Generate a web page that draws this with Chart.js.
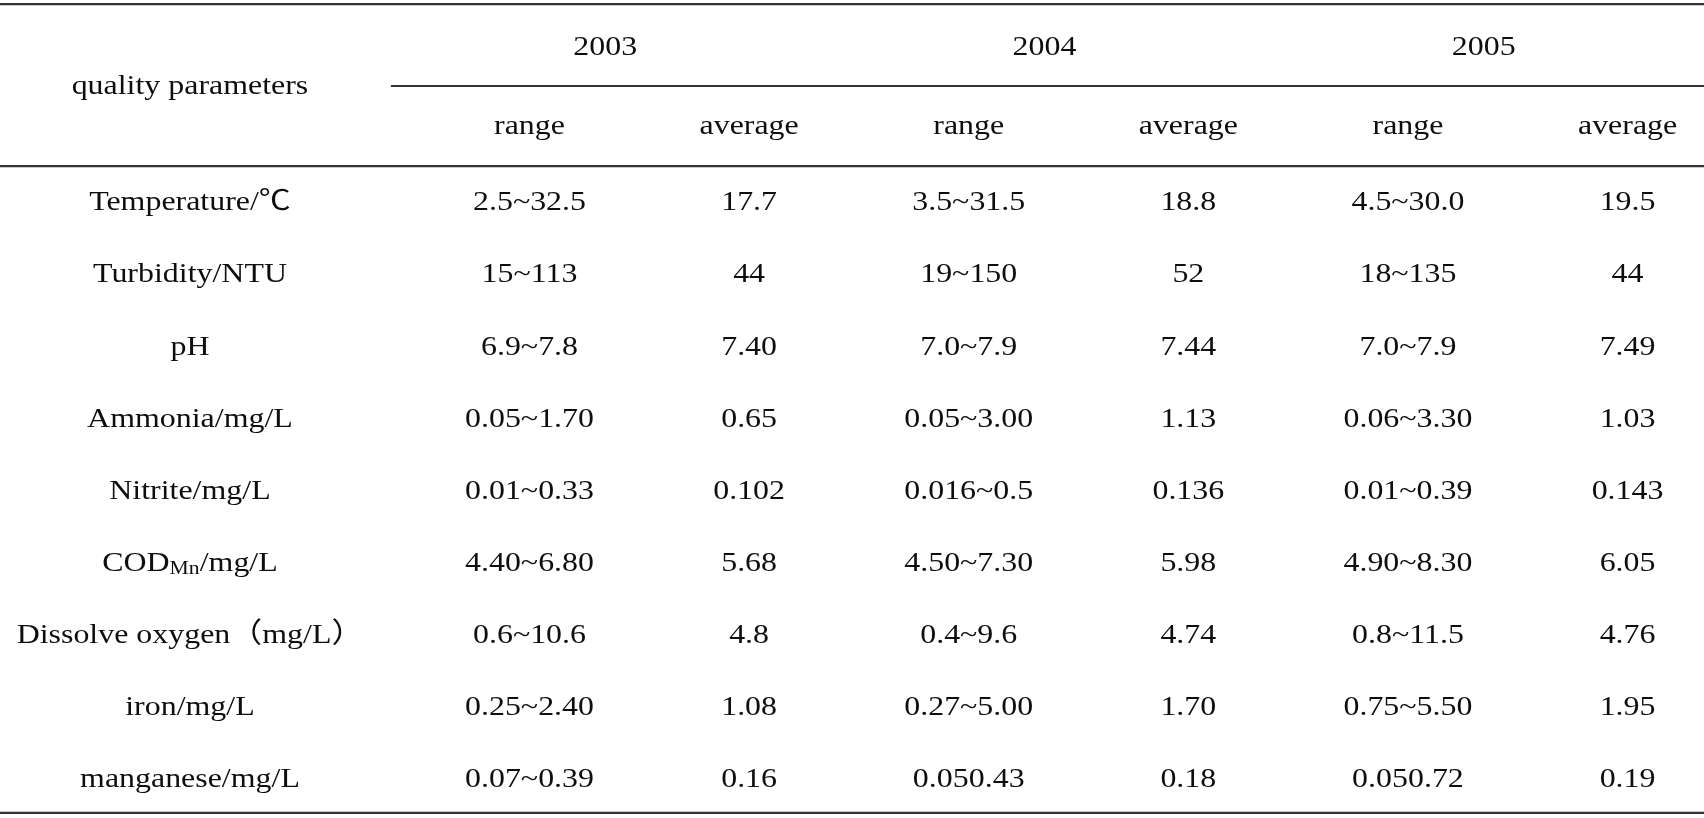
<!DOCTYPE html>
<html>
<head>
<meta charset="utf-8">
<script src="https://cdn.jsdelivr.net/npm/chart.js@4"></script>
<style>
  html, body { margin: 0; padding: 0; background: #ffffff; }
  #wrap { width: 1704px; height: 818px; position: relative; }
</style>
</head>
<body>
<div id="wrap"><canvas id="c" width="1704" height="818"></canvas></div>
<script>
// ---- table content ----
const headerTitle = 'quality parameters';
const years = ['2003', '2004', '2005'];
const subHeaders = ['range', 'average', 'range', 'average', 'range', 'average'];
const parameters = ['Temperature/℃', 'Turbidity/NTU', 'pH', 'Ammonia/mg/L', 'Nitrite/mg/L',
  'COD_{Mn}/mg/L', 'Dissolve oxygen（mg/L）', 'iron/mg/L', 'manganese/mg/L'];
const range2003 = ['2.5~32.5', '15~113', '6.9~7.8', '0.05~1.70', '0.01~0.33', '4.40~6.80', '0.6~10.6', '0.25~2.40', '0.07~0.39'];
const average2003 = ['17.7', '44', '7.40', '0.65', '0.102', '5.68', '4.8', '1.08', '0.16'];
const range2004 = ['3.5~31.5', '19~150', '7.0~7.9', '0.05~3.00', '0.016~0.5', '4.50~7.30', '0.4~9.6', '0.27~5.00', '0.050.43'];
const average2004 = ['18.8', '52', '7.44', '1.13', '0.136', '5.98', '4.74', '1.70', '0.18'];
const range2005 = ['4.5~30.0', '18~135', '7.0~7.9', '0.06~3.30', '0.01~0.39', '4.90~8.30', '0.8~11.5', '0.75~5.50', '0.050.72'];
const average2005 = ['19.5', '44', '7.49', '1.03', '0.143', '6.05', '4.76', '1.95', '0.19'];

// ---- layout (scale units: columns on x, rows on y) ----
const X_MIN = -1.411, X_MAX = 6.348;
const Y_MIN = -2.816, Y_MAX = 8.530;
const LABEL_COL = -0.546;
const YEAR_SHIFT = -0.155;
const YEAR_ROW = -2.15, SUB_ROW = -1.054, TITLE_ROW = -1.609;
const RULES = [
  { y: -2.760, from: X_MIN, to: X_MAX },
  { y: -1.623, from: 0.369, to: X_MAX },
  { y: -0.513, from: X_MIN, to: X_MAX },
  { y: 8.460, from: X_MIN, to: X_MAX }
];
const FONT_FAMILY = '"Liberation Serif", "Noto Sans CJK SC", serif';
const FONT_SIZE = 28;
const H_STRETCH = 1.14;
const TEXT_COLOR = '#0e0e0e';
const RULE_COLOR = '#333333';

const dataColumns = [range2003, average2003, range2004, average2004, range2005, average2005];

function textDataset(points, texts) {
  return { type: 'scatter', data: points, texts: texts, pointRadius: 0, pointHoverRadius: 0, showLine: false };
}

const datasets = [];
datasets.push(textDataset(parameters.map((_, i) => ({ x: LABEL_COL, y: i })), parameters));
dataColumns.forEach((col, c) => {
  datasets.push(textDataset(col.map((_, i) => ({ x: c + 1, y: i })), col));
});
datasets.push(textDataset([{ x: LABEL_COL, y: TITLE_ROW }], [headerTitle]));
datasets.push(textDataset(years.map((_, k) => ({ x: 2 * k + 1.5 + YEAR_SHIFT, y: YEAR_ROW })), years));
datasets.push(textDataset(subHeaders.map((_, k) => ({ x: k + 1, y: SUB_ROW })), subHeaders));
RULES.forEach(r => {
  datasets.push({
    type: 'line', data: [{ x: r.from, y: r.y }, { x: r.to, y: r.y }],
    borderColor: RULE_COLOR, borderWidth: 2.2, pointRadius: 0, pointHoverRadius: 0, fill: false, tension: 0
  });
});

function drawCellText(ctx, text, x, y) {
  const mainFont = FONT_SIZE + 'px ' + FONT_FAMILY;
  const subFont = Math.round(FONT_SIZE * 0.68) + 'px ' + FONT_FAMILY;
  ctx.save();
  ctx.translate(x, y);
  ctx.scale(H_STRETCH, 1);
  const m = text.match(/^(.*)_\{(.*?)\}(.*)$/);
  if (!m) {
    ctx.font = mainFont;
    ctx.textAlign = 'center';
    ctx.fillText(text, 0, 0);
    ctx.restore();
    return;
  }
  ctx.font = mainFont;
  const w1 = ctx.measureText(m[1]).width;
  const w3 = ctx.measureText(m[3]).width;
  ctx.font = subFont;
  const w2 = ctx.measureText(m[2]).width;
  const left = -(w1 + w2 + w3) / 2;
  ctx.textAlign = 'left';
  ctx.font = mainFont;
  ctx.fillText(m[1], left, 0);
  ctx.font = subFont;
  ctx.fillText(m[2], left + w1, 6);
  ctx.font = mainFont;
  ctx.fillText(m[3], left + w1 + w2, 0);
  ctx.restore();
}

const tableTextPlugin = {
  id: 'tableText',
  afterDatasetsDraw(chart) {
    const ctx = chart.ctx;
    ctx.save();
    ctx.fillStyle = TEXT_COLOR;
    ctx.textBaseline = 'middle';
    chart.data.datasets.forEach((ds, di) => {
      if (!ds.texts) return;
      const meta = chart.getDatasetMeta(di);
      meta.data.forEach((el, i) => drawCellText(ctx, ds.texts[i], el.x, el.y));
    });
    ctx.restore();
  }
};

new Chart(document.getElementById('c'), {
  type: 'scatter',
  data: { datasets: datasets },
  options: {
    responsive: false,
    animation: false,
    devicePixelRatio: 1,
    layout: { padding: 0 },
    events: [],
    plugins: { legend: { display: false }, tooltip: { enabled: false } },
    scales: {
      x: { type: 'linear', display: false, min: X_MIN, max: X_MAX },
      y: { type: 'linear', display: false, reverse: true, min: Y_MIN, max: Y_MAX }
    }
  },
  plugins: [tableTextPlugin]
});
</script>
</body>
</html>
